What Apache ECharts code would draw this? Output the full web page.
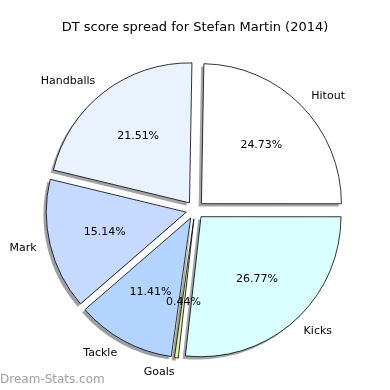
<!DOCTYPE html>
<html><head><meta charset="utf-8">
<script src="https://cdn.jsdelivr.net/npm/echarts@6/dist/echarts.min.js"></script>
<style>html,body{margin:0;padding:0;background:#fff}#c{width:390px;height:390px}</style>
</head><body><div id="c"></div>
<script>
const categories = ['Hitout', 'Kicks', 'Goals', 'Tackle', 'Mark', 'Handballs'];
const values = [24.73, 26.77, 0.44, 11.41, 15.14, 21.51];
const colors = ['#ffffff', '#d9ffff', '#d9f0a3', '#b3d4ff', '#c6d9ff', '#ebf2ff'];
const titleText = 'DT score spread for Stefan Martin (2014)';
const watermark = 'Dream-Stats.com';

const font = 'DejaVu Sans';
const CX = 195, CY = 210, R = 140;
function shade(hex) {
  const n = parseInt(hex.slice(1), 16);
  const ch = [(n >> 16) & 255, (n >> 8) & 255, n & 255].map(v => Math.round(0.5 * 0.3 * v + 0.5 * 255));
  return 'rgb(' + ch.join(',') + ')';
}
const ctx = document.createElement('canvas').getContext('2d');
ctx.font = '11px "' + font + '"';
const pctText = values.map(v => v.toFixed(2) + '%');

const chart = echarts.init(document.getElementById('c'), null, {renderer: 'canvas'});
const base = {
  type: 'pie', startAngle: 89, clockwise: true,
  selectedMode: 'multiple', selectedOffset: 9, avoidLabelOverlap: false,
  minShowLabelAngle: 0, labelLayout: {hideOverlap: false, moveOverlap: null},
  animation: false, emphasis: {disabled: true}, silent: true
};
chart.setOption({
  backgroundColor: '#fff',
  title: {text: titleText, left: 'center', top: 21, padding: 0,
    textStyle: {fontFamily: font, fontSize: 13, fontWeight: 'normal', color: '#000'}},
  graphic: [{type: 'text', left: 0, top: 374, style: {text: watermark, fontFamily: font, fontSize: 12, fill: '#a0a0a0'}}],
  series: [
    Object.assign({}, base, {
      center: [CX - 2.8, CY + 2.8], radius: [0, R], z: 1,
      label: {show: false}, labelLine: {show: false},
      data: categories.map((c, i) => ({name: c, value: values[i], selected: true, itemStyle: {color: shade(colors[i])}}))
    }),
    Object.assign({}, base, {
      center: [CX, CY], radius: [0, R], z: 2,
      label: {show: true, position: 'outside', formatter: '{b}', fontFamily: font, fontSize: 11, color: '#000', distanceToLabelLine: 0},
      labelLine: {show: false, length: 14, length2: 0},
      itemStyle: {borderColor: '#000', borderWidth: 0.8},
      data: categories.map((c, i) => ({name: c, value: values[i], selected: true, itemStyle: {color: colors[i]}}))
    }),
    Object.assign({}, base, {
      center: [CX, CY], radius: [0, 1], z: 3,
      label: {show: true, position: 'outside', formatter: p => pctText[p.dataIndex], fontFamily: font, fontSize: 11, color: '#000'},
      labelLine: {show: false, length: 83, length2: 0},
      itemStyle: {color: 'rgba(0,0,0,0)', borderWidth: 0},
      data: categories.map((c, i) => ({name: c, value: values[i], selected: true,
        label: {distanceToLabelLine: -ctx.measureText(pctText[i]).width / 2}}))
    })
  ]
});
</script></body></html>
